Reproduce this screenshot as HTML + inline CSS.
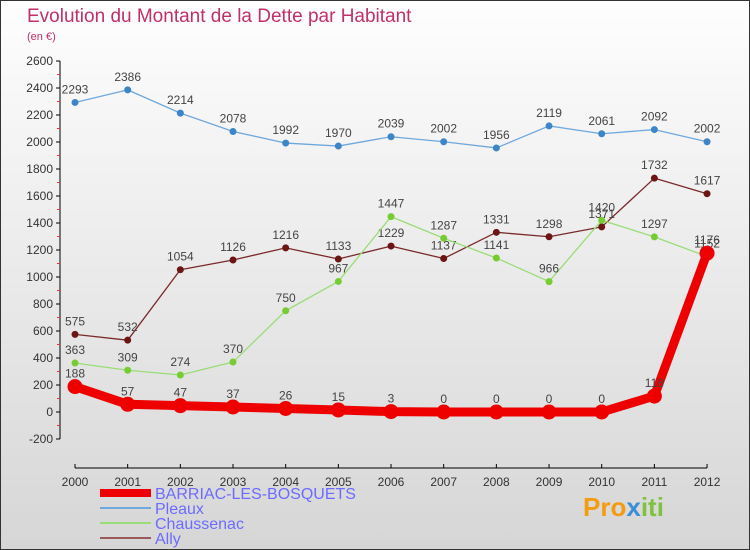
<!DOCTYPE html>
<html><head><meta charset="utf-8"><style>
body{margin:0;width:750px;height:550px;overflow:hidden;font-family:"Liberation Sans",sans-serif}
#c{position:absolute;left:0;top:0;width:748px;height:548px;border:1px solid #333;background:linear-gradient(#fefefe,#d6d6d6)}
</style></head><body>
<div id="c">
<svg id="s" width="750" height="550" style="position:absolute;left:-1px;top:-1px">
<text x="27" y="22" font-size="19" fill="#c0306a">Evolution du Montant de la Dette par Habitant</text>
<text x="27" y="40" font-size="11" fill="#c0306a">(en €)</text>
<text x="583" y="516" font-size="26" font-weight="bold" fill="#f39c12">Pro<tspan fill="#3a8fd6">x</tspan><tspan fill="#7fc242">iti</tspan></text>
</svg></div>
<script>
const years=[2000,2001,2002,2003,2004,2005,2006,2007,2008,2009,2010,2011,2012];
const yTicks=[-200,0,200,400,600,800,1000,1200,1400,1600,1800,2000,2200,2400,2600];
const barriac=[188,57,47,37,26,15,3,0,0,0,0,118,1176];
const pleaux=[2293,2386,2214,2078,1992,1970,2039,2002,1956,2119,2061,2092,2002];
const chaussenac=[363,309,274,370,750,967,1447,1287,1141,966,1420,1297,1152];
const ally=[575,532,1054,1126,1216,1133,1229,1137,1331,1298,1371,1732,1617];
const NS="http://www.w3.org/2000/svg",s=document.getElementById('s');
const X=i=>75+i*52.67, Y=v=>412-v*0.135;
function el(t,a,txt){const e=document.createElementNS(NS,t);for(const k in a)e.setAttribute(k,a[k]);if(txt!=null)e.textContent=txt;s.appendChild(e);return e;}
let e=el('line',{x1:60,y1:Y(2600),x2:60,y2:Y(-200),stroke:'#000'});


e=el('line',{x1:75,y1:468,x2:707,y2:468,stroke:'#000'});


yTicks.forEach(v=>{
 el('line',{x1:56,y1:Y(v),x2:60,y2:Y(v),stroke:'#000'});
 if(v<2600) el('line',{x1:57,y1:Y(v+100),x2:60,y2:Y(v+100),stroke:'#e33'});
 e=el('text',{x:53,y:Y(v)+4,'font-size':12,'text-anchor':'end',fill:'#333'},v);
 
 
});
years.forEach((y,i)=>{
 el('line',{x1:X(i),y1:464,x2:X(i),y2:468,stroke:'#000'});
 e=el('text',{x:X(i),y:486,'font-size':12,'text-anchor':'middle',fill:'#333'},y);
 
 
});
function series(d,col,w,r,name,dot){
 e=el('polyline',{points:d.map((v,i)=>X(i)+','+Y(v)).join(' '),fill:'none',stroke:col,'stroke-width':w,'stroke-linejoin':'round'});
 
 
 d.forEach((v,i)=>{
  e=el('circle',{cx:X(i),cy:Y(v),r:r,fill:dot});
  
  
  e=el('text',{x:X(i),y:Y(v)-9,'font-size':12,'text-anchor':'middle',fill:'#444'},v);
  
  
 });
}
series(pleaux,'#6fa8dc',1.3,3.5,'pleaux','#3d85c6');
series(ally,'#7a2a2a',1.3,3.5,'ally','#6b1515');
series(chaussenac,'#99dd77',1.3,3.5,'chaussenac','#77cc33');
series(barriac,'#ee0000',9,7.5,'barriac','#ee0000');
const leg=[['BARRIAC-LES-BOSQUETS','#ee0000',8],['Pleaux','#6fa8dc',2],['Chaussenac','#99dd77',2],['Ally','#9a5a5a',2]];
leg.forEach((l,i)=>{
 const yy=493+i*15;
 e=el('line',{x1:100,y1:yy,x2:151,y2:yy,stroke:l[1],'stroke-width':l[2]});
 
 
 e=el('text',{x:155,y:yy+6,'font-size':16,fill:'#6b6bff'},l[0]);
 
 
});
</script>
</body></html>
